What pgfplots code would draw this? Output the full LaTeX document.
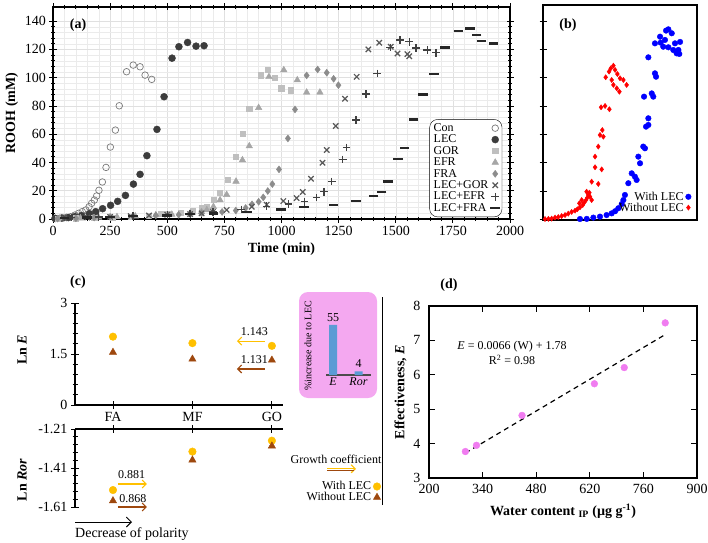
\documentclass[border=0pt]{standalone}
\usepackage{fontspec}
\setmainfont{Liberation Serif}
\usepackage{pgfplots}
\pgfplotsset{compat=1.18}
\usetikzlibrary{arrows.meta}

\definecolor{cCon}{HTML}{7A7A7A}
\definecolor{cLEC}{HTML}{3C3C3C}
\definecolor{cGOR}{HTML}{BFBFBF}
\definecolor{cEFR}{HTML}{A6A6A6}
\definecolor{cFRA}{HTML}{8C8C8C}
\definecolor{cLG}{HTML}{595959}
\definecolor{cLE}{HTML}{404040}
\definecolor{cLF}{HTML}{262626}
\definecolor{gold}{HTML}{FFC000}
\definecolor{rust}{HTML}{9E480E}
\definecolor{vio}{HTML}{F07CF0}
\definecolor{inkpink}{HTML}{F4A8F0}
\definecolor{barblue}{HTML}{5B9BD5}

\newcommand\fa{\fontsize{14}{16}\selectfont}
\newcommand\fb{\fontsize{12}{14}\selectfont}
\newcommand\fc{\fontsize{10}{12}\selectfont}

\pgfplotsset{
  every axis/.append style={scale only axis, font=\fa,
    /pgf/number format/assume math mode=true,
    /pgf/number format/1000 sep={}},
  tick style={black, line width=0.8pt},
  axis line style={line width=1.1pt},
}

\begin{document}
\begin{tikzpicture}
\useasboundingbox (0pt,0pt) rectangle (708pt,542pt);

% ---------- (a) ----------
\begin{axis}[at={(53pt,323pt)}, anchor=south west, width=457pt, height=212pt,
  xmin=0, xmax=2000, ymin=0, ymax=150,
  xtick={0,250,...,2000}, ytick={0,20,...,140},
  minor x tick num=4, minor y tick num=4,
  grid=both, minor grid style={gray!16, line width=0.4pt},
  major grid style={gray!24, line width=0.5pt},
  tick align=center, major tick length=7pt, minor tick length=4pt,
  xlabel={\textbf{Time (min)}}, ylabel={\textbf{ROOH (mM)}},
  legend plot pos=right,
  legend style={at={(0.983,0.009)}, anchor=south east, draw=black, fill=white,
    rounded corners=8pt, font=\fb, row sep=-2pt, inner sep=2pt,
    cells={anchor=west}, /tikz/every even column/.append style={column sep=3pt}},
]
\addplot[only marks, mark=o, mark size=3.3pt, cCon, line width=0.7pt] coordinates {
(9,0.3)(28,0.5)(45,0.7)(60,1.2)(77,1.6)(96,2.8)(112,4.0)(128,5.2)(144,6.4)(158,8.7)
(169,11.1)(181,13.4)(191,16.3)(201,20.3)(216,26.2)(232,36.5)(251,50.9)(273,62.9)
(290,80.1)(322,104.2)(351,108.9)(381,107.7)(403,101.8)(432,98.8)};
\addlegendentry{Con}
\addplot[only marks, mark=*, mark size=3.5pt, cLEC] coordinates {
(9,0.5)(38,0.7)(67,1.0)(96,1.7)(125,2.4)(159,3.8)(187,5.2)(217,7.3)(252,9.7)
(283,12.5)(317,16.7)(352,24.7)(381,31.6)(411,44.8)(455,63.4)(486,86.5)(521,113.8)
(551,121.9)(589,124.9)(626,122.3)(661,122.6)};
\addlegendentry{LEC}
\addplot[only marks, mark=square*, mark size=2.6pt, cGOR] coordinates {
(20,0.3)(100,0.5)(180,0.8)(260,1.2)(340,1.8)(420,2.5)(470,3.5)(500,4)(560,4.5)
(610,5.5)(651,7.6)(673,8.7)(702,13.4)(731,18.6)(766,28.0)(801,44.1)(830,60.1)
(859,78.3)(909,101.8)(941,105.4)(970,100.2)(999,92.6)(1040,91.2)};
\addlegendentry{GOR}
\addplot[only marks, mark=triangle*, mark size=3.8pt, cEFR] coordinates {
(30,0.3)(120,0.6)(200,1)(280,1.5)(360,2)(450,2.8)(520,3.2)(600,4)(650,5)(673,6.4)
(702,8.7)(731,13.4)(760,17.2)(801,26.6)(829,41.7)(859,51.6)(900,78.7)(945,100.6)
(1010,105.4)(1069,98.3)(1110,89.6)(1168,89.6)};
\addlegendentry{EFR}
\addplot[only marks, mark=diamond*, mark size=3.5pt, cFRA] coordinates {
(20,0.3)(100,0.5)(180,1)(250,1.5)(350,2)(450,2.5)(550,3)(600,3.5)(650,4)(700,4.5)
(740,5)(800,6)(843,7.8)(871,10.4)(900,12.2)(920,15.3)(940,19.8)(960,24.7)(989,35.1)
(1028,57.0)(1059,77.5)(1110,101.6)(1158,105.8)(1198,103.5)(1228,99.2)(1249,94.7)};
\addlegendentry{FRA}
\addplot[only marks, mark=x, mark size=3.8pt, cLG, line width=1.2pt] coordinates {
(50,0.5)(150,1)(250,1.5)(340,2)(420,2.5)(500,3)(600,3.5)(650,4)(700,5)(760,6.4)
(870,8.7)(935,10.1)(1008,12.7)(1066,14.8)(1093,19.1)(1129,28.5)(1179,39.8)
(1198,48.8)(1237,65.8)(1278,85.1)(1329,100.6)(1380,120)(1428,124.7)(1478,121.9)
(1508,117.1)(1551,116.7)(1559,115.2)};
\addlegendentry{LEC+GOR}
\addplot[only marks, mark=+, mark size=3.8pt, cLE, line width=1.4pt] coordinates {
(80,1)(200,1.5)(350,2)(500,3)(600,4)(700,5)(824,6.8)(935,9)(1030,10.6)(1100,12.2)
(1154,15.1)(1186,19.3)(1220,26.6)(1268,42.2)(1285,50.7)(1326,70)(1369,88.4)
(1419,103)(1476,121.4)(1519,126.6)(1559,125.4)(1589,121.1)(1638,119.5)(1676,117.6)};
\addlegendentry{LEC+EFR}
\addplot[only marks, mark=-, mark size=4.8pt, cLF, line width=2.4pt] coordinates {
(50,0.5)(150,1)(250,1.5)(350,2)(500,2.5)(600,3.5)(702,4.0)(848,4.9)(998,6.8)
(1098,8.3)(1227,10.1)(1326,12.9)(1402,16.3)(1438,19.3)(1467,26.6)(1511,42.4)
(1538,50.4)(1577,70.5)(1618,88.2)(1667,102.5)(1716,121.4)(1774,133.2)(1825,134.8)
(1854,130.1)(1876,125.9)(1927,124.2)};
\addlegendentry{LEC+FRA}
\end{axis}
\node[font=\fa\bfseries] at (78pt,517pt) {(a)};

% ---------- (b) ----------
\begin{axis}[at={(543pt,322pt)}, anchor=south west, width=154pt, height=215pt,
  xmin=0, xmax=100, ymin=-0.5, ymax=151.5,
  xtick=\empty, ytick={0,20,...,140}, yticklabels={}, ytick pos=left,
  tick align=center, major tick length=7pt,
  legend plot pos=right,
  legend style={at={(0.97,0.02)}, anchor=south east, draw=none, fill=none,
    font=\fb, row sep=-3pt, inner sep=1pt, cells={anchor=east}},
]
\addplot[only marks, mark=*, mark size=2.8pt, blue] coordinates {
(24.0,0.2)(28.4,0.3)(32.7,1.2)(37.0,1.9)(41.3,3.0)(44.6,4.2)(46.8,5.7)(48.9,7.8)
(51.1,10.8)(52.2,13.6)(53.2,17.2)(55.4,25.5)(57.6,32.5)(59.7,30.1)(60.8,27.8)
(63.0,39.6)(61.9,44.3)(65.1,51.4)(66.2,50.2)(66.9,65.5)(68.4,71.4)(68.4,66.7)
(65.6,86.7)(70.6,89.0)(71.6,86.7)(72.7,103.2)(73.4,100.8)(68.4,114.5)(72.7,124.4)
(76.4,124.9)(79.2,126.8)(81.4,134.3)(79.9,133.4)(83.6,131.5)(78.1,122.0)(81.4,121.6)
(84.6,119.7)(85.7,124.4)(87.9,119.7)(88.5,116.9)(89.0,125.4)(86.8,117.3)(76.0,129.1)};
\addlegendentry{With LEC}
\addplot[only marks, mark=diamond*, mark size=2.6pt, red] coordinates {
(1.3,0.2)(3.5,0.3)(5.6,0.5)(7.8,1.2)(9.9,1.6)(12.1,2.3)(14.3,3.0)(16.4,4.0)(18.6,5.2)
(20.8,6.1)(22.3,7.1)(24.0,8.5)(25.8,10.1)(26.8,11.8)(27.9,13.6)(28.8,15.3)(29.4,17.2)
(30.1,18.8)(28.3,19.5)(30.5,16.0)(25.1,13.6)(31.6,13.6)(23.6,11.3)(31.6,26.6)
(35.9,25.0)(33.8,36.8)(38.1,35.3)(33.8,44.3)(35.9,51.4)(37.0,59.6)(38.5,63.1)
(39.2,58.4)(37.7,79.2)(40.3,80.1)(43.1,77.8)(40.7,100.4)(42.9,104.4)(44.0,106.7)
(45.7,108.6)(46.8,105.6)(48.3,102.7)(50.0,99.7)(44.6,98.5)(45.7,95.0)(47.9,92.6)
(49.6,90.2)(52.2,98.5)(54.3,95.0)};
\addlegendentry{Without LEC}
\end{axis}
\node[font=\fa\bfseries] at (568pt,517pt) {(b)};

% ---------- (c) top ----------
\begin{axis}[at={(75pt,137pt)}, anchor=south west, width=208pt, height=102pt,
  xmin=0.522, xmax=3.14, ymin=0, ymax=3,
  axis x line*=bottom, axis y line*=left, axis line style={-, line width=1.2pt},
  xtick={1,2,3}, xticklabels={FA,MF,GO}, ytick={0,1.5,3}, minor y tick num=4,
  tick align=center, major tick length=8pt, minor tick length=5pt, clip=false,
]
\addplot[only marks, mark=*, mark size=3.8pt, gold] coordinates {(1,2.01)(2,1.82)(3,1.74)};
\addplot[only marks, mark=triangle*, mark size=4.2pt, rust] coordinates {(1,1.55)(2,1.35)(3,1.32)};
\draw[-{Straight Barb[length=4pt]}, gold, line width=1.1pt] (axis cs:2.912,1.88) -- (axis cs:2.56,1.88);
\draw[-{Straight Barb[length=4pt]}, rust, line width=1.1pt] (axis cs:2.912,1.06) -- (axis cs:2.56,1.06);
\node[font=\fb] at (axis cs:2.78,2.16) {1.143};
\node[font=\fb] at (axis cs:2.78,1.33) {1.131};
\end{axis}

% ---------- (c) bottom ----------
\begin{axis}[at={(75pt,35pt)}, anchor=south west, width=208pt, height=78pt,
  xmin=0.522, xmax=3.14, ymin=-1.61, ymax=-1.21,
  axis x line*=top, axis y line*=left, axis line style={-, line width=1.2pt},
  xtick={1,2,3}, xticklabels={}, ytick={-1.61,-1.41,-1.21},
  yticklabels={-1.61,-1.41,-1.21}, minor y tick num=4,
  tick align=center, major tick length=8pt, minor tick length=5pt, clip=false,
  legend plot pos=right,
  legend style={at={(1.476,0.02)}, anchor=south east, draw=none, fill=none,
    font=\fb, row sep=-3pt, inner sep=1pt, cells={anchor=east}},
]
\addplot[only marks, mark=*, mark size=3.8pt, gold] coordinates {(1,-1.523)(2,-1.326)(3,-1.27)};
\addlegendentry{With LEC}
\addplot[only marks, mark=triangle*, mark size=4.2pt, rust] coordinates {(1,-1.578)(2,-1.369)(3,-1.297)};
\addlegendentry{Without LEC}
\draw[-{Straight Barb[length=4pt]}, gold, line width=1.1pt] (axis cs:1.063,-1.492) -- (axis cs:1.428,-1.492);
\draw[-{Straight Barb[length=4pt]}, rust, line width=1.1pt] (axis cs:1.063,-1.61) -- (axis cs:1.428,-1.61);
\node[font=\fb] at (axis cs:1.235,-1.446) {0.881};
\node[font=\fb] at (axis cs:1.25,-1.569) {0.868};
\end{axis}
\node[font=\fa\bfseries] at (78pt,260pt) {(c)};
\node[rotate=90, font=\fa\bfseries] at (22pt,192pt) {Ln \textit{E}};
\node[rotate=90, font=\fa\bfseries] at (22pt,62pt) {Ln \textit{Ror}};
\draw[-{Straight Barb[length=5pt]}, line width=0.9pt] (75pt,20pt) -- (132pt,20pt);
\node[anchor=west, font=\fa, inner sep=0pt] at (75pt,8pt) {Decrease of polarity};
\node[font=\fb] at (336pt,83pt) {Growth coefficient};
\draw[-{Straight Barb[length=4pt]}, gold, line width=1.2pt] (327pt,73.2pt) -- (356pt,73.2pt);
\draw[rust, line width=1.2pt] (327pt,71.6pt) -- (354pt,71.6pt);

% ---------- inset ----------
\fill[inkpink, rounded corners=9pt] (299pt,144pt) rectangle (377pt,250pt);
\begin{axis}[at={(326pt,167pt)}, anchor=south west, width=45pt, height=56.4pt,
  xmin=0.725, xmax=2.49, ymin=0, ymax=62,
  axis x line*=bottom, axis y line=none,
  x axis line style={-, line width=1.2pt, draw=black!70},
  xtick={1,2}, xticklabels={\textit{E},\textit{Ror}}, major tick length=0pt,
  x tick label style={font=\fb, yshift=1pt},
  ybar, bar width=8pt, nodes near coords,
  every node near coord/.append style={font=\fb},
]
\addplot[fill=barblue, draw=none] coordinates {(1,55)(2,4)};
\end{axis}
\node[rotate=90, font=\fc] at (308pt,196pt) {\%increase due to LEC};
\draw[line width=1pt] (382pt,37pt) -- (382pt,245pt);

% ---------- (d) ----------
\begin{axis}[at={(429pt,64pt)}, anchor=south west, width=268pt, height=172pt,
  xmin=200, xmax=900, ymin=3, ymax=8,
  xtick={200,340,...,900}, ytick={3,...,8},
  tick align=inside, major tick length=6pt, clip=false,
  xlabel={\textbf{Water content \textsubscript{IP} (µg g\textsuperscript{-1})}},
  ylabel={\textbf{Effectiveness, \textit{E}}},
  xlabel style={yshift=-3pt},
  x tick label style={yshift=-3pt},
  y tick label style={xshift=-5pt},
]
\addplot[only marks, mark=*, mark size=3.4pt, vio] coordinates {
(295,3.77)(324,3.95)(443,4.82)(632,5.74)(710,6.21)(817,7.51)};
\addplot[black, line width=1.2pt, dash pattern=on 5pt off 4pt] coordinates {(295,3.727)(817,7.17)};
\node[font=\fb] at (axis cs:417,6.81) {\textit{E} = 0.0066 (W) + 1.78};
\node[font=\fb] at (axis cs:417,6.43) {R\textsuperscript{2} = 0.98};
\end{axis}
\node[font=\fa\bfseries] at (449pt,257pt) {(d)};
\end{tikzpicture}
\end{document}
